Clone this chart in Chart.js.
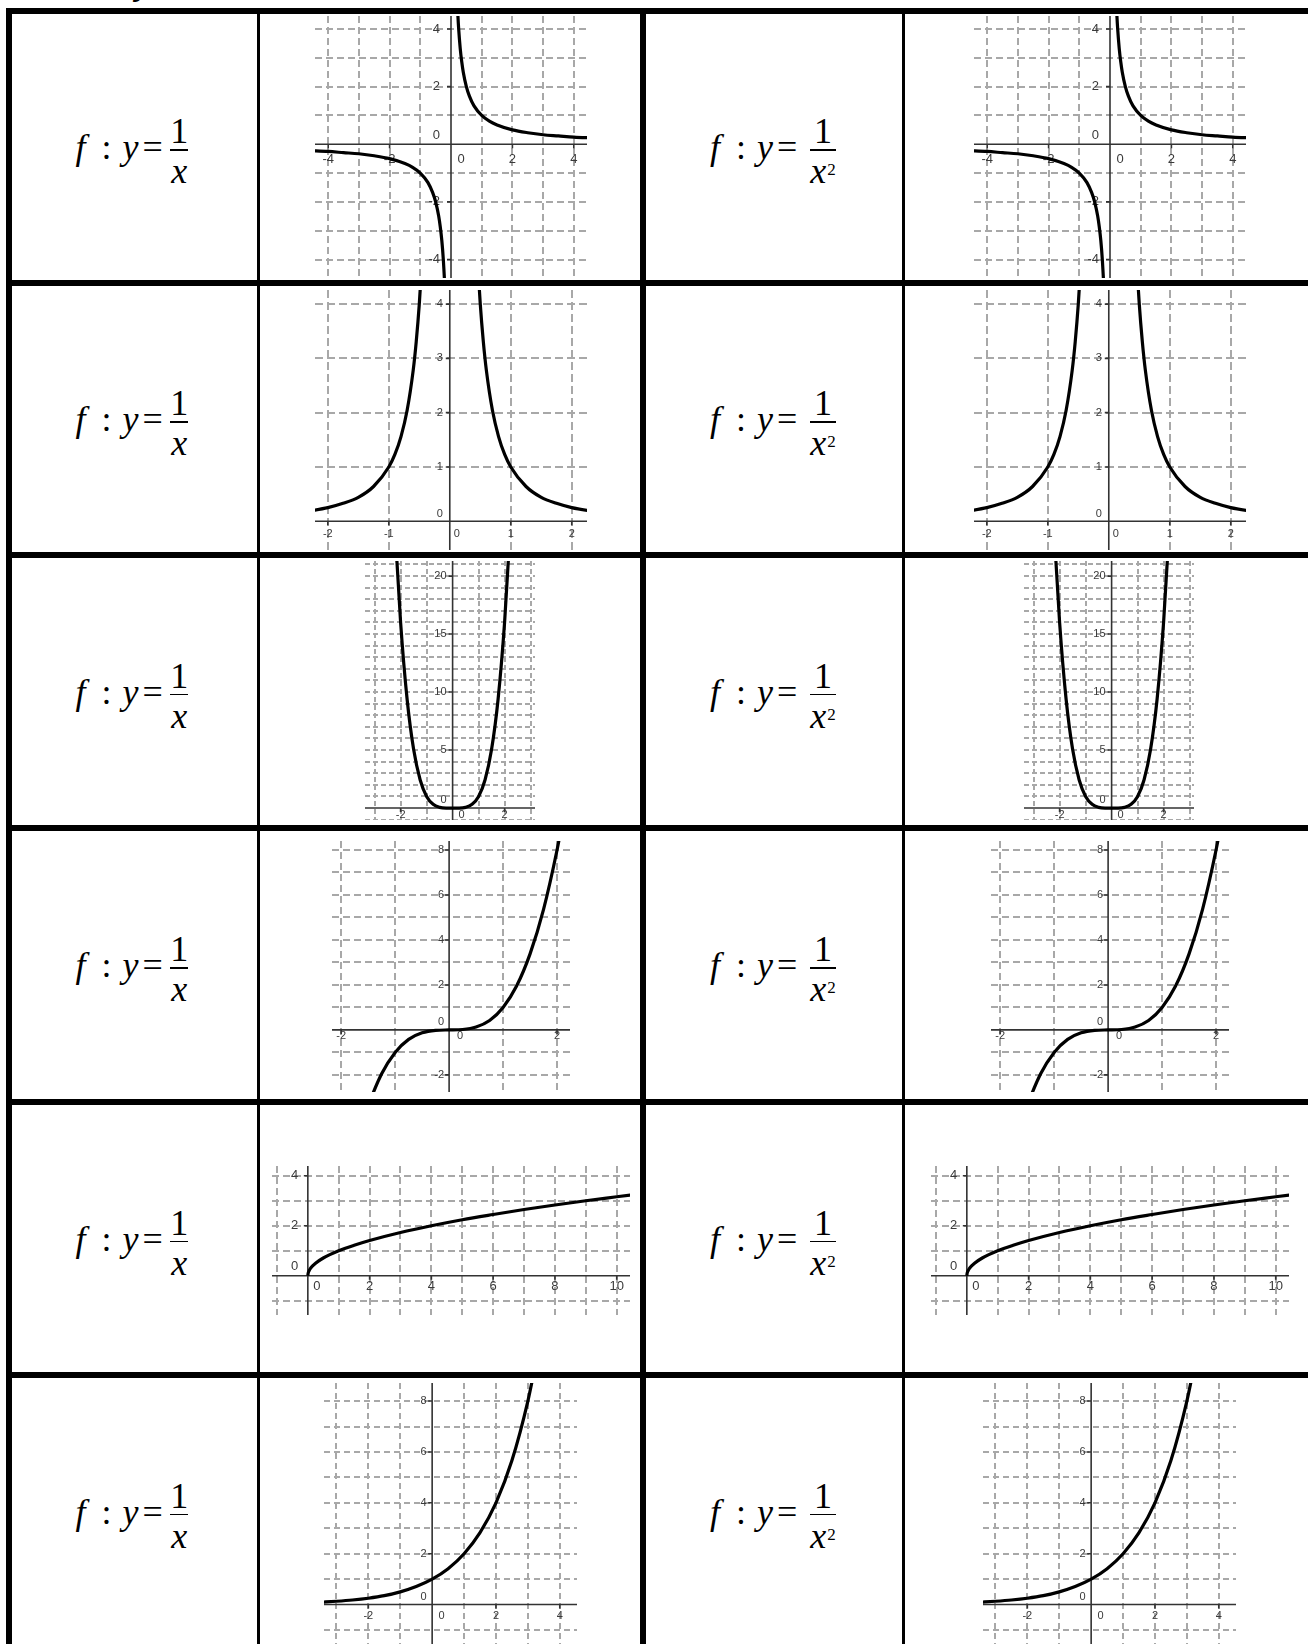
<!DOCTYPE html>
<html>
<head>
<meta charset="utf-8">
<title>Funktionen zuordnen</title>
<script src="https://cdn.jsdelivr.net/npm/chart.js@4.4.1/dist/chart.umd.min.js"></script>
<style>
  html, body { margin: 0; padding: 0; background: #fff; }
  body { width: 1308px; height: 1644px; position: relative; overflow: hidden; }
  .rule { position: absolute; background: #000; }
  .cell {
    position: absolute; display: flex; align-items: center;
    font-family: "Liberation Serif", "Times New Roman", serif;
  }
  .fx {
    display: flex; align-items: center;
    font-family: "Liberation Serif", "Times New Roman", serif;
    font-size: 36px; line-height: 1; color: #000;
  }
  .fx i { font-style: italic; }
  .fx .colon { margin-left: 16px; }
  .fx .vy { margin-left: 11px; }
  .fx .eq { margin-left: 4px; }
  .frac {
    display: flex; flex-direction: column; align-items: center;
    margin-left: 6px; margin-top: 8px; padding: 0 1.5px;
  }
  .frac.sq { padding: 0 10px; margin-left: 3px; }
  .frac .bar { align-self: stretch; height: 1.5px; background: #000; }
  .frac .den { padding-top: 2.5px; }
  .frac .pow { font-size: 17px; position: relative; top: -8px; font-style: normal; margin-left: 1px; }
  .head {
    position: absolute; left: 134px; top: -27px;
    font: italic bold 28px "Liberation Sans", Arial, sans-serif; line-height: 1;
  }
  canvas { position: absolute; }
</style>
</head>
<body>
<div class="head">y</div>
<script>
// y = 1/x
const recipRightX = [0.18, 0.2, 0.25, 0.3, 0.35, 0.4, 0.5, 0.6, 0.75, 1, 1.25, 1.5, 2, 2.5, 3, 3.5, 4, 4.6];
const recipRightY = [5.56, 5, 4, 3.33, 2.86, 2.5, 2, 1.67, 1.33, 1, 0.8, 0.67, 0.5, 0.4, 0.33, 0.29, 0.25, 0.22];
const recipLeftX = [-4.6, -4, -3.5, -3, -2.5, -2, -1.5, -1.25, -1, -0.75, -0.6, -0.5, -0.4, -0.35, -0.3, -0.25, -0.2, -0.18];
const recipLeftY = [-0.22, -0.25, -0.29, -0.33, -0.4, -0.5, -0.67, -0.8, -1, -1.33, -1.67, -2, -2.5, -2.86, -3.33, -4, -5, -5.56];

// y = 1/x^2
const invSqLeftX = [-2.4, -2, -1.75, -1.5, -1.25, -1, -0.9, -0.8, -0.7, -0.6, -0.55, -0.5, -0.46];
const invSqLeftY = [0.17, 0.25, 0.33, 0.44, 0.64, 1, 1.23, 1.56, 2.04, 2.78, 3.31, 4, 4.73];
const invSqRightX = [0.46, 0.5, 0.55, 0.6, 0.7, 0.8, 0.9, 1, 1.25, 1.5, 1.75, 2, 2.4];
const invSqRightY = [4.73, 4, 3.31, 2.78, 2.04, 1.56, 1.23, 1, 0.64, 0.44, 0.33, 0.25, 0.17];

// y = x^4
const quartX = [-2.3, -2.2, -2, -1.75, -1.5, -1.25, -1, -0.75, -0.5, -0.25, 0, 0.25, 0.5, 0.75, 1, 1.25, 1.5, 1.75, 2, 2.2, 2.3];
const quartY = [27.98, 23.43, 16, 9.38, 5.06, 2.44, 1, 0.32, 0.06, 0, 0, 0, 0.06, 0.32, 1, 2.44, 5.06, 9.38, 16, 23.43, 27.98];

// y = x^3
const cubeX = [-1.6, -1.5, -1.25, -1, -0.75, -0.5, -0.25, 0, 0.25, 0.5, 0.75, 1, 1.25, 1.5, 1.75, 2, 2.1];
const cubeY = [-4.1, -3.38, -1.95, -1, -0.42, -0.13, -0.02, 0, 0.02, 0.13, 0.42, 1, 1.95, 3.38, 5.36, 8, 9.26];

// y = sqrt(x)
const rootX = [0, 0.01, 0.04, 0.1, 0.25, 0.5, 1, 1.5, 2, 3, 4, 5, 6, 7, 8, 9, 10, 11];
const rootY = [0, 0.1, 0.2, 0.32, 0.5, 0.71, 1, 1.22, 1.41, 1.73, 2, 2.24, 2.45, 2.65, 2.83, 3, 3.16, 3.32];

// y = 2^x
const expX = [-3.5, -3, -2.5, -2, -1.5, -1, -0.5, 0, 0.5, 1, 1.5, 2, 2.5, 3, 3.25];
const expY = [0.09, 0.13, 0.18, 0.25, 0.35, 0.5, 0.71, 1, 1.41, 2, 2.83, 4, 5.66, 8, 9.51];

// tick labels
const recipXTicks = [-4, -2, 2, 4];
const recipYTicks = [4, 2, -2, -4];
const invSqXTicks = [-2, -1, 1, 2];
const invSqYTicks = [1, 2, 3, 4];
const quartXTicks = [-2, 2];
const quartYTicks = [5, 10, 15, 20];
const cubeXTicks = [-2, 2];
const cubeYTicks = [-2, 2, 4, 6, 8];
const rootXTicks = [2, 4, 6, 8, 10];
const rootYTicks = [2, 4];
const expXTicks = [-2, 2, 4];
const expYTicks = [2, 4, 6, 8];

const GRID_COLOR = "#a8a8a8";
const AXIS_COLOR = "#333";
const LABEL_COLOR = "#3a3a3a";
const RIGHT_SHIFT = 659;

// row cells between the horizontal rules
const rowCells = [[14, 280], [286, 552], [558, 825], [831, 1099], [1105, 1372], [1378, 1645]];

// one graph per row, drawn in both columns
const panels = [
  { curves: [[recipLeftX, recipLeftY], [recipRightX, recipRightY]], box: [315, 16, 272, 262],
    xr: [-4.43, 4.43], yr: [-4.64, 4.45], xTicks: recipXTicks, yTicks: recipYTicks,
    fs: 13, xdy: 15, ydx: 11, ox: 10, dash: [7, 4] },
  { curves: [[invSqLeftX, invSqLeftY], [invSqRightX, invSqRightY]], box: [315, 290, 272, 260],
    xr: [-2.21, 2.25], yr: [-0.53, 4.26], xTicks: invSqXTicks, yTicks: invSqYTicks,
    fs: 11, xdy: 12.5, ydx: 7, ox: 7, dash: [8, 4] },
  { curves: [[quartX, quartY]], box: [365, 561, 170, 259],
    xr: [-3.37, 3.17], yr: [-1.03, 21.3], xTicks: quartXTicks, yTicks: quartYTicks,
    fs: 11, xdy: 7, ydx: 6, ox: 9, dash: [5, 3] },
  { curves: [[cubeX, cubeY]], box: [332, 841, 238, 251],
    xr: [-2.17, 2.24], yr: [-2.76, 8.4], xTicks: cubeXTicks, yTicks: cubeYTicks,
    fs: 11, xdy: 6.5, ydx: 5, ox: 11, dash: [7, 4] },
  { curves: [[rootX, rootY]], box: [272, 1166, 358, 149],
    xr: [-1.16, 10.43], yr: [-1.57, 4.39], xTicks: rootXTicks, yTicks: rootYTicks,
    fs: 13, xdy: 11, ydx: 9.5, ox: 9, dash: [7, 4] },
  { curves: [[expX, expY]], box: [324, 1383, 253, 261],
    xr: [-3.39, 4.54], yr: [-1.55, 8.71], xTicks: expXTicks, yTicks: expYTicks,
    fs: 11, xdy: 11.5, ydx: 5.5, ox: 9.5, dash: [6, 4] },
];

/**
 * whole units inside a range, without the axis itself
 * @param {number} lo
 * @param {number} hi
 * @returns {number[]}
 */
function gridUnits(lo, hi) {
  const out = [];
  for (let v = Math.ceil(lo); v <= Math.floor(hi); v++) if (v !== 0) out.push(v);
  return out;
}

/**
 * axes through the origin with GeoGebra style labels
 * @param {object} p
 */
function axesPlugin(p) {
  return {
    id: "geoAxes",
    beforeDatasetsDraw(chart) {
      const { ctx, chartArea: a } = chart;
      const sx = chart.scales.x;
      const sy = chart.scales.y;
      const x0 = sx.getPixelForValue(0);
      const y0 = sy.getPixelForValue(0);
      ctx.save();
      ctx.strokeStyle = AXIS_COLOR;
      ctx.lineWidth = 1.6;
      ctx.beginPath();
      ctx.moveTo(a.left, y0);
      ctx.lineTo(a.right, y0);
      ctx.moveTo(x0, a.top);
      ctx.lineTo(x0, a.bottom);
      p.xTicks.forEach(v => {
        const px = sx.getPixelForValue(v);
        ctx.moveTo(px, y0);
        ctx.lineTo(px, y0 + 4);
      });
      p.yTicks.forEach(v => {
        const py = sy.getPixelForValue(v);
        ctx.moveTo(x0 - 4, py);
        ctx.lineTo(x0, py);
      });
      ctx.stroke();

      ctx.font = p.fs + 'px "Liberation Sans", Arial, sans-serif';
      ctx.fillStyle = LABEL_COLOR;
      ctx.textBaseline = "middle";
      ctx.textAlign = "center";
      p.xTicks.forEach(v => ctx.fillText(String(v), sx.getPixelForValue(v), y0 + p.xdy));
      ctx.fillText("0", x0 + p.ox, y0 + p.xdy);
      ctx.textAlign = "right";
      p.yTicks.forEach(v => ctx.fillText(String(v), x0 - p.ydx, sy.getPixelForValue(v)));
      ctx.fillText("0", x0 - p.ydx, y0 - 0.7 * p.fs);
      ctx.restore();
    },
  };
}

/**
 * @param {HTMLCanvasElement} canvas
 * @param {object} p
 * @returns {Chart}
 */
function drawGraph(canvas, p) {
  const gx = gridUnits(p.xr[0], p.xr[1]);
  const gy = gridUnits(p.yr[0], p.yr[1]);
  const scale = (range, grid, horizontal) => ({
    type: "linear",
    min: range[0],
    max: range[1],
    afterFit: s => { if (horizontal) s.height = 0; else s.width = 0; },
    afterBuildTicks: s => { s.ticks = grid.map(v => ({ value: v })); },
    ticks: { display: false },
    grid: { color: GRID_COLOR, lineWidth: 2, drawTicks: false },
    border: { display: false, dash: p.dash },
  });
  return new Chart(canvas, {
    type: "scatter",
    data: {
      datasets: p.curves.map(([xs, ys]) => ({
        data: xs.map((v, i) => ({ x: v, y: ys[i] })),
        showLine: true,
        borderColor: "#000",
        borderWidth: 3.2,
        pointRadius: 0,
        cubicInterpolationMode: "monotone",
        fill: false,
      })),
    },
    options: {
      responsive: false,
      animation: false,
      devicePixelRatio: 1,
      events: [],
      layout: { padding: 0 },
      plugins: { legend: { display: false }, tooltip: { enabled: false } },
      scales: { x: scale(p.xr, gx, true), y: scale(p.yr, gy, false) },
    },
    plugins: [axesPlugin(p)],
  });
}

function addRule(left, top, width, height) {
  const d = document.createElement("div");
  d.className = "rule";
  Object.assign(d.style, { left: left + "px", top: top + "px", width: width + "px", height: height + "px" });
  document.body.appendChild(d);
}

function addFormula(left, width, top, bottom, padLeft, squared) {
  const cell = document.createElement("div");
  cell.className = "cell";
  Object.assign(cell.style, {
    left: left + "px", width: width + "px", top: top + "px",
    height: (bottom - top) + "px", paddingLeft: padLeft + "px", boxSizing: "border-box",
  });
  cell.innerHTML =
    '<div class="fx"><i>f</i><span class="colon">:</span><i class="vy">y</i><span class="eq">=</span>' +
    '<span class="frac' + (squared ? " sq" : "") + '"><span class="num">1</span><span class="bar"></span>' +
    '<span class="den"><i>x</i>' + (squared ? '<span class="pow">2</span>' : "") + "</span></span></div>";
  document.body.appendChild(cell);
}

// table rules
addRule(6, 8, 1302, 6);
[280, 552, 825, 1099, 1372].forEach(t => addRule(6, t, 1302, 6));
addRule(6, 8, 6, 1640);
addRule(257, 8, 3, 1640);
addRule(640, 8, 6, 1640);
addRule(902, 8, 3, 1640);

rowCells.forEach(([top, bottom], r) => {
  addFormula(12, 245, top, bottom, 63.5, false);
  addFormula(646, 256, top, bottom, 64, true);
  [0, RIGHT_SHIFT].forEach(shift => {
    const p = panels[r];
    const c = document.createElement("canvas");
    c.width = p.box[2];
    c.height = p.box[3];
    Object.assign(c.style, {
      left: (p.box[0] + shift) + "px", top: p.box[1] + "px",
      width: p.box[2] + "px", height: p.box[3] + "px",
    });
    document.body.appendChild(c);
    drawGraph(c, p);
  });
});
</script>
</body>
</html>
